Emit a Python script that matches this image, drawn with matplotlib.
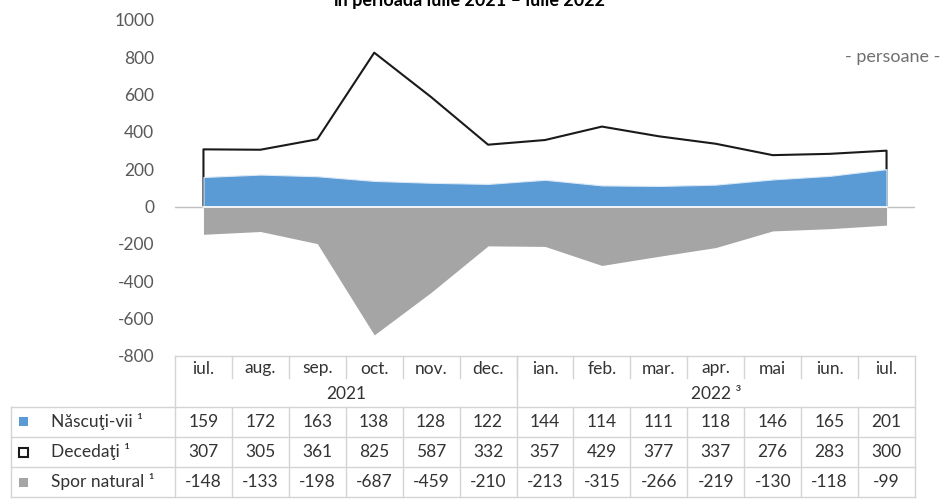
import matplotlib.pyplot as plt
from matplotlib.transforms import blended_transform_factory
from matplotlib.patches import Rectangle

plt.rcParams['font.family'] = ['Lato', 'DejaVu Sans']
plt.rcParams['axes.unicode_minus'] = False

# data
months = ['iul.', 'aug.', 'sep.', 'oct.', 'nov.', 'dec.', 'ian.', 'feb.', 'mar.', 'apr.', 'mai', 'iun.', 'iul.']
years = ['2021', '2022 ³']
year_spans = [(0, 5), (6, 12)]
nascuti = [159, 172, 163, 138, 128, 122, 144, 114, 111, 118, 146, 165, 201]
decedati = [307, 305, 361, 825, 587, 332, 357, 429, 377, 337, 276, 283, 300]
spor = [-148, -133, -198, -687, -459, -210, -213, -315, -266, -219, -130, -118, -99]
row_labels = ['Născuţi-vii ¹', 'Decedaţi ¹', 'Spor natural ¹']

BLUE = '#5b9bd5'
GRAY = '#a5a5a5'
GRID = '#d4d4d4'
TXT = '#333333'
FS = 12.5

fig = plt.figure(figsize=(9.45, 5), dpi=100)
ax = fig.add_axes([175 / 945, 1 - 356 / 500, 740 / 945, 336 / 500])

x = list(range(len(months)))

# deceased outline (white area, black edge)
ax.fill_between(x, 0, decedati, color='white', zorder=1)
ax.plot([0] + x + [x[-1]], [0] + decedati + [0], color='#1a1a1a', lw=1.5, zorder=2)
ax.fill_between(x, 0, nascuti, color=BLUE, edgecolor='#dbe9f6', lw=0.8, zorder=3)
ax.fill_between(x, 0, spor, color=GRAY, lw=0, zorder=3)
ax.axhline(0, color='#bfbfbf', lw=1, zorder=0)
ax.plot([0, 12], [0, 0], color='white', lw=1.2, zorder=4)

ax.set_xlim(-0.5, 12.5)
ax.set_ylim(-800, 1000)
ax.set_yticks(range(-800, 1001, 200))
ax.tick_params(axis='y', length=0, pad=15, labelsize=12.5, labelcolor='#595959')
ax.set_xticks([])
for s in ax.spines.values():
    s.set_visible(False)

ax.text(1.034, 0.89, '- persoane -', transform=ax.transAxes, ha='right', va='center',
        fontsize=13, color='#707070')
fig.text(0.497, 0.999, 'în perioada iulie 2021 – iulie 2022', ha='center', va='center',
         fontsize=13, fontweight='bold', color='black')

# table below the plot
tr = blended_transform_factory(ax.transData, ax.transAxes)
px = 1 / 336
y_top = 0
y_mon = -25 * px
y_year = -51 * px
row_y = [-51 * px, -81 * px, -111 * px, -141 * px]
xl, xr = -0.5, 12.5
x_lab = -0.5 - 164 / 57

def hline(x0, x1, y):
    ax.plot([x0, x1], [y, y], color=GRID, lw=1, transform=tr, clip_on=False)

def vline(xx, y0, y1):
    ax.plot([xx, xx], [y0, y1], color=GRID, lw=1, transform=tr, clip_on=False)

hline(xl, xr, y_top)
for yy in row_y:
    hline(x_lab, xr, yy)
vline(xl, y_top, row_y[-1])
vline(xr, y_top, row_y[-1])
vline(x_lab, row_y[0], row_y[-1])
for i in range(1, len(months)):
    vline(i - 0.5, y_top, y_mon + 0.01)
    vline(i - 0.5, row_y[0], row_y[-1])
vline(5.5, y_top, row_y[0])

for i, m in enumerate(months):
    ax.text(i, (y_top + y_mon) / 2, m, transform=tr, ha='center', va='center',
            fontsize=FS, color=TXT)
for (a, b), yr in zip(year_spans, years):
    ax.text((a + b) / 2, (y_mon + y_year) / 2, yr, transform=tr, ha='center', va='center',
            fontsize=FS, color=TXT)

series = [nascuti, decedati, spor]
for r, vals in enumerate(series):
    yc = (row_y[r] + row_y[r + 1]) / 2
    for i, v in enumerate(vals):
        ax.text(i, yc, str(v), transform=tr, ha='center', va='center', fontsize=FS, color=TXT)
    ax.text(-0.5 - 124 / 57, yc, row_labels[r], transform=tr, ha='left', va='center',
            fontsize=FS, color=TXT)

# legend keys in the table
key_style = [dict(fc=BLUE, ec=BLUE, lw=0), dict(fc='white', ec='#1a1a1a', lw=1.5),
             dict(fc=GRAY, ec=GRAY, lw=0)]
kw, kh = 9 / 57, 9 * px
for r, st in enumerate(key_style):
    yc = (row_y[r] + row_y[r + 1]) / 2
    ax.add_patch(Rectangle((-0.5 - 152 / 57 - kw / 2, yc - kh / 2), kw, kh, transform=tr,
                           clip_on=False, **st))

plt.savefig('out.png', dpi=100)
